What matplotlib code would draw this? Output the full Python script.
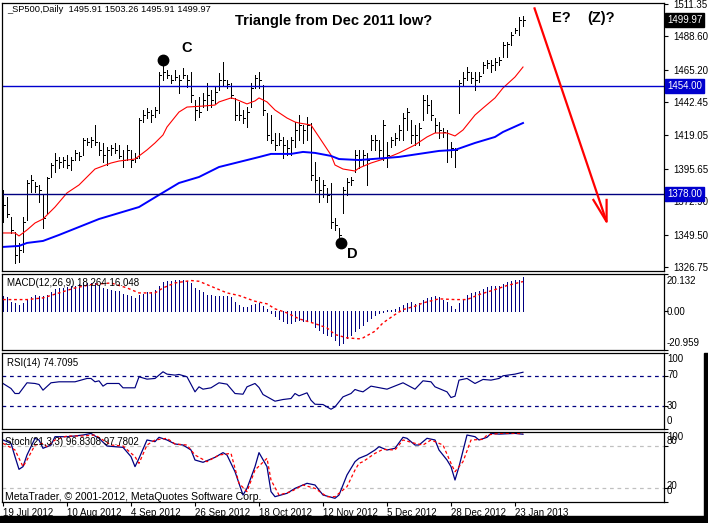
import numpy as np
import matplotlib
matplotlib.use("Agg")
from matplotlib import pyplot as plt
from matplotlib.patches import Rectangle

plt.rcParams["font.family"] = ["Liberation Sans", "DejaVu Sans"]

"""
Data read off the chart
"""
date_labels = ["19 Jul 2012", "10 Aug 2012", "4 Sep 2012", "26 Sep 2012", "18 Oct 2012",
               "12 Nov 2012", "5 Dec 2012", "28 Dec 2012", "23 Jan 2013"]
date_step = 16

high = [1380.8, 1375.9, 1361.8, 1351.3, 1343.6, 1361.8, 1387.8, 1391.3, 1386.4, 1384.3,
        1377.3, 1389.9, 1399.7, 1406.8, 1404.0, 1404.0, 1405.4, 1404.0, 1408.9, 1407.5,
        1417.3, 1417.3, 1418.0, 1426.4, 1414.5, 1413.8, 1411.0, 1412.4, 1413.8, 1412.4,
        1408.9, 1412.4, 1408.9, 1406.8, 1431.3, 1436.9, 1438.3, 1436.9, 1439.0, 1463.6,
        1468.5, 1465.0, 1461.5, 1465.0, 1461.5, 1466.4, 1461.5, 1463.6, 1443.9, 1446.1,
        1448.9, 1455.9, 1451.0, 1453.1, 1462.9, 1470.6, 1458.0, 1455.9, 1445.4, 1442.5,
        1436.9, 1439.0, 1455.9, 1461.5, 1463.6, 1454.5, 1434.8, 1433.4, 1420.8, 1420.8,
        1418.0, 1415.9, 1418.0, 1428.5, 1433.4, 1426.4, 1432.0, 1427.8, 1400.4, 1389.9,
        1387.8, 1382.2, 1385.7, 1361.1, 1354.1, 1382.9, 1389.2, 1389.9, 1408.9, 1408.9,
        1408.9, 1406.8, 1419.4, 1419.4, 1415.9, 1429.9, 1414.5, 1418.0, 1420.8, 1426.4,
        1434.8, 1438.3, 1429.9, 1426.4, 1427.8, 1447.5, 1447.5, 1443.9, 1431.3, 1428.5,
        1424.3, 1422.9, 1414.5, 1410.3, 1458.0, 1463.6, 1467.1, 1463.6, 1463.6, 1463.6,
        1470.6, 1472.0, 1472.0, 1473.4, 1474.2, 1484.7, 1484.7, 1491.7, 1494.5, 1502.2,
        1503.26]
low = [1358.3, 1361.8, 1350.6, 1329.5, 1330.2, 1337.3, 1359.7, 1379.4, 1379.4, 1372.4,
       1354.1, 1364.6, 1389.9, 1393.4, 1396.2, 1396.9, 1396.2, 1394.8, 1401.8, 1401.8,
       1405.4, 1412.4, 1411.0, 1412.4, 1405.4, 1400.4, 1398.3, 1405.4, 1406.8, 1403.3,
       1396.9, 1401.8, 1396.9, 1400.4, 1403.3, 1428.5, 1431.3, 1428.5, 1432.0, 1434.8,
       1458.0, 1459.4, 1455.9, 1458.0, 1448.9, 1459.4, 1453.1, 1442.5, 1429.9, 1432.0,
       1439.0, 1436.9, 1439.0, 1441.9, 1451.0, 1454.5, 1452.4, 1445.4, 1429.9, 1429.9,
       1427.8, 1425.0, 1439.0, 1452.4, 1452.4, 1433.4, 1415.9, 1413.8, 1408.9, 1412.4,
       1403.3, 1405.4, 1405.4, 1411.0, 1415.9, 1413.8, 1415.9, 1387.8, 1379.4, 1372.4,
       1375.9, 1372.4, 1354.1, 1352.7, 1345.7, 1364.6, 1377.3, 1384.3, 1393.4, 1396.2,
       1398.3, 1384.3, 1408.9, 1408.9, 1404.0, 1401.8, 1396.9, 1411.0, 1412.4, 1415.9,
       1415.9, 1422.9, 1413.8, 1412.4, 1412.4, 1429.9, 1434.8, 1429.9, 1421.5, 1417.3,
       1418.0, 1400.4, 1404.0, 1396.9, 1434.8, 1454.5, 1458.0, 1455.9, 1451.0, 1456.6,
       1462.9, 1466.4, 1463.6, 1465.0, 1468.5, 1474.2, 1474.2, 1482.6, 1491.0, 1489.6,
       1495.91]
close = [1370.3, 1363.9, 1352.7, 1335.2, 1338.7, 1358.3, 1385.7, 1387.8, 1383.6, 1380.8,
         1361.1, 1389.2, 1398.3, 1401.8, 1400.4, 1401.8, 1398.3, 1401.8, 1406.8, 1404.7,
         1415.9, 1414.5, 1415.9, 1414.5, 1408.9, 1405.4, 1408.9, 1410.3, 1408.9, 1404.7,
         1401.8, 1408.9, 1401.8, 1403.3, 1429.9, 1433.4, 1435.5, 1433.4, 1436.9, 1461.5,
         1463.6, 1461.5, 1458.0, 1460.1, 1458.0, 1461.5, 1458.0, 1447.5, 1436.9, 1435.5,
         1443.9, 1447.5, 1443.9, 1449.6, 1458.0, 1458.0, 1455.2, 1447.5, 1433.4, 1433.4,
         1431.3, 1435.5, 1452.4, 1459.4, 1458.0, 1436.9, 1419.4, 1415.9, 1412.4, 1415.9,
         1412.4, 1410.3, 1415.9, 1422.9, 1426.4, 1422.9, 1426.4, 1391.3, 1387.8, 1380.8,
         1384.3, 1377.3, 1358.3, 1356.2, 1349.2, 1380.8, 1386.4, 1387.8, 1405.4, 1401.8,
         1405.4, 1401.8, 1415.9, 1415.9, 1408.9, 1426.4, 1405.4, 1415.9, 1417.3, 1422.9,
         1431.3, 1435.5, 1419.4, 1419.4, 1424.3, 1443.9, 1440.5, 1433.4, 1426.4, 1422.9,
         1421.5, 1408.9, 1410.3, 1408.9, 1455.9, 1459.4, 1463.6, 1459.4, 1458.0, 1460.8,
         1468.5, 1469.9, 1468.5, 1470.6, 1472.0, 1482.6, 1483.3, 1489.6, 1493.1, 1500.1,
         1499.97]
last_bar = {"open": 1495.91, "high": 1503.26, "low": 1495.91, "close": 1499.97}

# moving averages, sampled along the line
ma_fast_idx = [0, 3, 4, 6, 8, 10, 13, 16, 19, 23, 27, 29, 33, 36, 38, 40, 41, 44, 46, 50,
               53, 54, 57, 58, 61, 63, 64, 66, 68, 71, 73, 74, 77, 79, 82, 83, 85, 88, 89, 92,
               96, 99, 103, 106, 108, 111, 113, 115, 118, 120, 123, 125, 128, 130]
ma_fast = [1350.6, 1350.6, 1348.5, 1352.7, 1357.6, 1360.4, 1368.8, 1378.7, 1384.3, 1395.5,
           1399.7, 1401.1, 1402.5, 1408.9, 1413.8, 1419.4, 1425.0, 1435.5, 1439.0, 1439.7,
           1440.4, 1442.6, 1445.4, 1444.7, 1441.2, 1443.3, 1445.4, 1442.6, 1436.9, 1431.3,
           1428.5, 1427.8, 1426.4, 1418.0, 1405.3, 1398.3, 1395.5, 1394.1, 1396.2, 1399.7,
           1403.3, 1406.8, 1412.4, 1418.0, 1420.8, 1420.8, 1418.7, 1422.9, 1433.4, 1438.3,
           1445.4, 1452.4, 1460.1, 1467.1]
ma_slow_idx = [0, 4, 6, 10, 14, 19, 24, 29, 34, 39, 44, 49, 54, 59, 64, 67, 72, 75, 78, 82,
               84, 89, 96, 99, 104, 109, 113, 118, 123, 125, 130]
ma_slow = [1340.8, 1341.5, 1343.6, 1345.0, 1349.2, 1354.8, 1360.4, 1364.6, 1368.8, 1377.3,
           1385.7, 1389.9, 1396.9, 1400.4, 1403.9, 1406.1, 1406.1, 1407.5, 1406.8, 1404.7,
           1402.5, 1401.8, 1403.3, 1404.0, 1406.1, 1408.2, 1408.9, 1413.8, 1418.0, 1421.5,
           1427.8]

levels = [1454.0, 1378.0]
price_ticks = [1511.35, 1488.60, 1465.20, 1442.45, 1419.05, 1395.65, 1372.90, 1349.50, 1326.75]

macd_hist = [8.1, 7.7, 5.0, 4.5, 3.2, 4.5, 6.3, 7.6, 9.0, 8.5,
             8.5, 9.0, 10.4, 12.2, 12.6, 12.6, 13.1, 13.5, 13.9, 14.8,
             15.8, 15.3, 15.3, 15.3, 14.4, 12.6, 12.1, 11.3, 11.2, 10.8,
             9.5, 9.0, 8.1, 7.2, 8.6, 9.5, 10.3, 10.3, 11.3, 13.9,
             15.7, 16.2, 16.6, 17.1, 17.1, 17.1, 16.6, 15.3, 12.6, 11.7,
             10.3, 9.0, 8.6, 8.5, 8.5, 8.5, 8.5, 7.6, 5.0, 3.6,
             2.3, 2.3, 3.2, 4.1, 4.5, 3.1, 1.3, -0.9, -2.7, -4.1,
             -5.4, -6.3, -6.3, -5.4, -4.9, -5.4, -5.4, -5.9, -8.5, -10.3,
             -11.7, -12.6, -13.5, -15.8, -18.0, -17.1, -14.4, -12.6, -10.8, -9.0,
             -7.2, -5.4, -3.6, -2.2, -0.9, -0.2, 0.4, 0.5, 1.3, 2.2,
             3.6, 4.5, 4.9, 4.0, 4.5, 5.9, 7.2, 7.7, 8.1, 7.6,
             6.3, 5.0, 3.1, 1.3, 4.5, 6.7, 9.0, 9.9, 10.4, 10.8,
             12.1, 13.1, 13.9, 13.9, 13.9, 14.9, 15.7, 16.2, 16.7, 17.1,
             18.264]
macd_sig_idx = [0, 3, 6, 10, 14, 18, 22, 27, 31, 34, 38, 40, 43, 47, 49, 53, 56, 59, 63, 66,
                68, 71, 74, 78, 81, 83, 86, 89, 90, 93, 95, 98, 100, 103, 105, 109, 113, 116,
                119, 123, 126, 130]
macd_sig = [6.3, 6.3, 6.3, 7.2, 9.9, 12.6, 14.4, 15.3, 12.6, 9.9,
            9.9, 12.6, 15.3, 16.6, 16.2, 12.6, 9.9, 8.5, 5.4, 4.0,
            1.3, -0.9, -4.1, -6.7, -9.0, -12.6, -14.4, -14.9, -14.4, -10.8,
            -6.3, -1.8, 0.9, 2.7, 4.5, 6.7, 6.3, 6.3, 9.0, 11.7,
            13.9, 16.048]
macd_range = (-20.959, 20.132)

rsi_idx = [0, 2, 3, 4, 6, 8, 9, 10, 12, 14, 18, 21, 22, 23, 24, 25, 26, 29, 30, 33,
           34, 36, 38, 40, 41, 43, 44, 46, 48, 49, 50, 52, 54, 56, 58, 60, 61, 63, 64, 65,
           68, 70, 72, 73, 74, 76, 77, 78, 80, 82, 83, 85, 87, 88, 89, 90, 92, 96, 100, 103,
           105, 107, 108, 111, 112, 113, 114, 116, 118, 120, 122, 124, 125, 128, 130]
rsi = [59.9, 53.3, 46.7, 46.7, 60.8, 59.9, 58.6, 51.1, 60.8, 62.1,
       62.1, 66.5, 66.5, 62.1, 63.4, 56.4, 59.9, 59.9, 54.2, 54.2,
       68.7, 65.6, 66.5, 75.3, 72.2, 70.9, 71.8, 68.7, 48.9, 55.5,
       52.4, 54.2, 60.8, 59.0, 46.7, 45.8, 55.5, 59.9, 54.6, 45.4,
       36.6, 38.8, 40.1, 46.7, 43.6, 47.6, 37.9, 32.6, 32.2, 26.0,
       29.1, 42.3, 46.7, 52.0, 50.2, 48.9, 56.4, 52.4, 60.8, 52.4,
       63.4, 62.1, 55.5, 48.9, 41.4, 43.2, 64.3, 66.5, 59.9, 65.2,
       64.3, 66.5, 70.0, 72.2, 74.7095]

stoch_k_idx = [0, 2, 3, 4, 5, 6, 8, 9, 10, 12, 13, 16, 18, 20, 22, 23, 24, 26, 28, 30,
               32, 33, 34, 36, 38, 39, 41, 43, 45, 47, 48, 50, 51, 53, 55, 56, 58, 60, 61, 63,
               64, 66, 67, 68, 71, 73, 76, 78, 80, 83, 84, 86, 88, 89, 91, 93, 94, 96, 98, 100,
               101, 103, 104, 106, 108, 109, 111, 112, 113, 114, 116, 118, 119, 121, 122, 124,
               128, 130]
stoch_k = [88.6, 83.8, 64.8, 46.7, 50.5, 67.1, 91.0, 88.6, 76.7, 81.4,
           93.3, 93.3, 94.3, 95.7, 98.0, 94.3, 91.0, 80.0, 79.0, 78.1,
           64.8, 50.5, 62.4, 88.6, 86.2, 92.4, 88.6, 82.9, 81.4, 74.3,
           60.0, 56.7, 59.0, 63.8, 70.5, 67.1, 43.3, 10.0, 19.5, 50.5,
           70.5, 50.5, 14.8, 7.6, 12.4, 19.5, 26.7, 24.3, 10.0, 5.3,
           10.0, 38.6, 57.6, 62.4, 67.1, 74.3, 79.0, 74.3, 76.7, 92.4,
           91.0, 81.4, 81.4, 91.0, 88.6, 74.3, 60.0, 50.5, 31.4, 50.5,
           95.7, 93.3, 88.6, 92.4, 98.0, 97.0, 98.0, 96.8308]
stoch_d_idx = [0, 3, 5, 6, 8, 10, 11, 13, 16, 20, 23, 25, 27, 30, 33, 34, 36, 38, 41, 43,
               46, 48, 51, 54, 57, 59, 61, 63, 66, 67, 69, 72, 75, 78, 81, 83, 86, 88, 89, 90,
               93, 95, 98, 100, 103, 105, 107, 110, 112, 113, 115, 117, 120, 121, 124, 128, 130]
stoch_d = [83.8, 74.3, 50.5, 60.0, 81.4, 83.8, 79.0, 88.6, 94.3, 94.3,
           95.7, 88.6, 81.4, 80.0, 64.8, 55.2, 81.4, 88.6, 91.0, 82.9,
           81.4, 67.1, 57.6, 67.1, 69.5, 26.7, 14.8, 45.7, 62.4, 31.4,
           10.0, 14.8, 24.3, 19.5, 7.6, 7.6, 21.9, 45.7, 55.2, 57.6,
           69.5, 75.2, 74.3, 88.6, 83.8, 81.4, 88.6, 81.4, 55.2, 43.3,
           57.6, 88.6, 89.5, 95.7, 98.0, 98.0, 97.7802]

# wave annotations (bar index, price)
wave_marks = {"C": (40, 1472.0), "D": (84.4, 1343.4)}
wave_texts = {"C": (45.8, 1480.5), "D": (87.3, 1335.8), "E?": (139.5, 1501.5), "(Z)?": (149.5, 1501.5)}
arrow_line = ([132.8, 150.9], [1509.0, 1358.5])
arrow_head = ([147.6, 150.9, 150.9], [1373.8, 1358.5, 1373.8])


"""
Layout helpers (pixel positions of the original 708x523 screenshot)
"""
W, H = 708, 523
NAVY = "#000080"
PX = 0.72  # one pixel in points at 100 dpi


def panel(fig, top, bottom):
  ax = fig.add_axes([2 / W, 1 - bottom / H, 662 / W, (bottom - top) / H])
  ax.set_xlim(-0.25, 165.25)
  for s in ax.spines.values():
    s.set_linewidth(0.9)
    s.set_color("black")
  ax.yaxis.tick_right()
  ax.tick_params(axis="y", direction="out", length=3, width=0.8, labelsize=7, pad=4)
  ax.set_xticks([])
  return ax


def right_label(ax, value, text, dy_px=0.0):
  ax.annotate(text, xy=(1, value), xycoords=("axes fraction", "data"),
              xytext=(2.2, -dy_px * PX), textcoords="offset points",
              ha="left", va="center", fontsize=7, annotation_clip=False)


def box_label(ax, value, text, fc):
  ax.annotate(text, xy=(1, value), xycoords=("axes fraction", "data"),
              xytext=(2.2, 0), textcoords="offset points", ha="left", va="center",
              fontsize=7, color="white", annotation_clip=False, zorder=10,
              bbox=dict(boxstyle="square,pad=0.2", fc=fc, ec=fc))


fig = plt.figure(figsize=(W / 100, H / 100), dpi=100)
fig.patch.set_facecolor("white")

x = np.arange(len(close))

# ---- price panel ----
ax = panel(fig, 3, 271)
ax.set_ylim(1323.9, 1512.05)
ax.vlines(x, low, high, color="black", lw=PX, antialiased=False)
ax.hlines(close, x, x + 0.4, color="black", lw=PX, antialiased=False)
ax.plot(ma_fast_idx, ma_fast, color="red", lw=0.8)
ax.plot(ma_slow_idx, ma_slow, color="#0000FF", lw=1.4)
ax.axhline(levels[0], color="#0000CD", lw=1.0)
ax.axhline(levels[1], color=NAVY, lw=1.0)
ax.set_yticks(price_ticks)
ax.set_yticklabels(["%.2f" % v for v in price_ticks])
box_label(ax, last_bar["close"], "%.2f" % last_bar["close"], "black")
box_label(ax, levels[0], "%.2f" % levels[0], "#0000CD")
box_label(ax, levels[1], "%.2f" % levels[1], "#0000CD")

for name, (bx, by) in wave_marks.items():
  ax.plot(bx, by, "o", color="black", ms=7.5)
for name, (tx, ty) in wave_texts.items():
  ax.text(tx, ty, name, ha="center", va="center", fontsize=10.5, fontweight="bold")
ax.plot(arrow_line[0], arrow_line[1], color="red", lw=1.6, solid_capstyle="butt")
ax.plot(arrow_head[0], arrow_head[1], color="red", lw=1.6)

# ---- MACD ----
axm = panel(fig, 274, 350)
axm.set_ylim(*macd_range)
axm.vlines(x, 0, macd_hist, color=NAVY, lw=PX, antialiased=False)
axm.plot(macd_sig_idx, macd_sig, color="red", lw=1.0, ls=(0, (2, 2)))
axm.set_yticks([macd_range[1], 0, macd_range[0]])
axm.set_yticklabels([])
right_label(axm, macd_range[1], "%.3f" % macd_range[1], 7)
right_label(axm, 0, "0.00", 1)
right_label(axm, macd_range[0], "%.3f" % macd_range[0], -7)

# ---- RSI ----
axr = panel(fig, 353, 429)
axr.set_ylim(0, 100)
for lvl in (70, 30):
  axr.axhline(lvl, color=NAVY, lw=0.9, ls=(0, (3, 3)))
axr.plot(rsi_idx, rsi, color=NAVY, lw=0.85)
axr.set_yticks([100, 70, 30, 0])
axr.set_yticklabels([])
for v, dy in zip([100, 70, 30, 0], [6.5, -0.5, -0.5, -7.5]):
  right_label(axr, v, str(v), dy)

# ---- Stochastic ----
axs = panel(fig, 432, 502)
axs.set_ylim(0, 100)
for lvl in (80, 20):
  axs.axhline(lvl, color="#C0C0C0", lw=0.9, ls=(0, (3, 3)))
axs.plot(stoch_k_idx, stoch_k, color=NAVY, lw=0.9)
axs.plot(stoch_d_idx, stoch_d, color="red", lw=0.9, ls=(0, (2.5, 2)))
axs.set_yticks([100, 80, 20, 0])
axs.set_yticklabels([])
for v, dy in zip([100, 80, 20, 0], [4.5, -4.5, -2.0, -10.5]):
  right_label(axs, v, str(v), dy)
date_pos = np.arange(len(date_labels)) * date_step
axs.set_xticks(date_pos)
axs.set_xticklabels(date_labels, ha="left", fontsize=7)
axs.tick_params(axis="x", direction="out", length=3, width=0.8, pad=1.5)

# ---- captions ----
def ftext(px, py, s, **kw):
  fig.text(px / W, 1 - py / H, s, **kw)

ftext(7, 10, "_SP500,Daily  %.2f %.2f %.2f %.2f" % (last_bar["open"], last_bar["high"],
                                                    last_bar["low"], last_bar["close"]),
      fontsize=6.7, va="center")
ftext(334, 21, "Triangle from Dec 2011 low?", fontsize=10.5, fontweight="bold",
      ha="center", va="center")
ftext(7, 283, "MACD(12,26,9) %.3f %.3f" % (macd_hist[-1], macd_sig[-1]), fontsize=7, va="center")
ftext(7, 363, "RSI(14) %.4f" % rsi[-1], fontsize=7, va="center")
ftext(5, 442, "Stoch(21,3,3) %.4f %.4f" % (stoch_k[-1], stoch_d[-1]), fontsize=7, va="center")
ftext(5, 497, "MetaTrader, \u00a9 2001-2012, MetaQuotes Software Corp.", fontsize=7.6, va="center")

# window frame strips
fig.patches.append(Rectangle((0, 0), 1, 7 / H, transform=fig.transFigure, color="black"))
fig.patches.append(Rectangle((704 / W, 0), 4 / W, (H - 353) / H, transform=fig.transFigure,
                             color="black"))

fig.savefig("out.png", dpi=100)
